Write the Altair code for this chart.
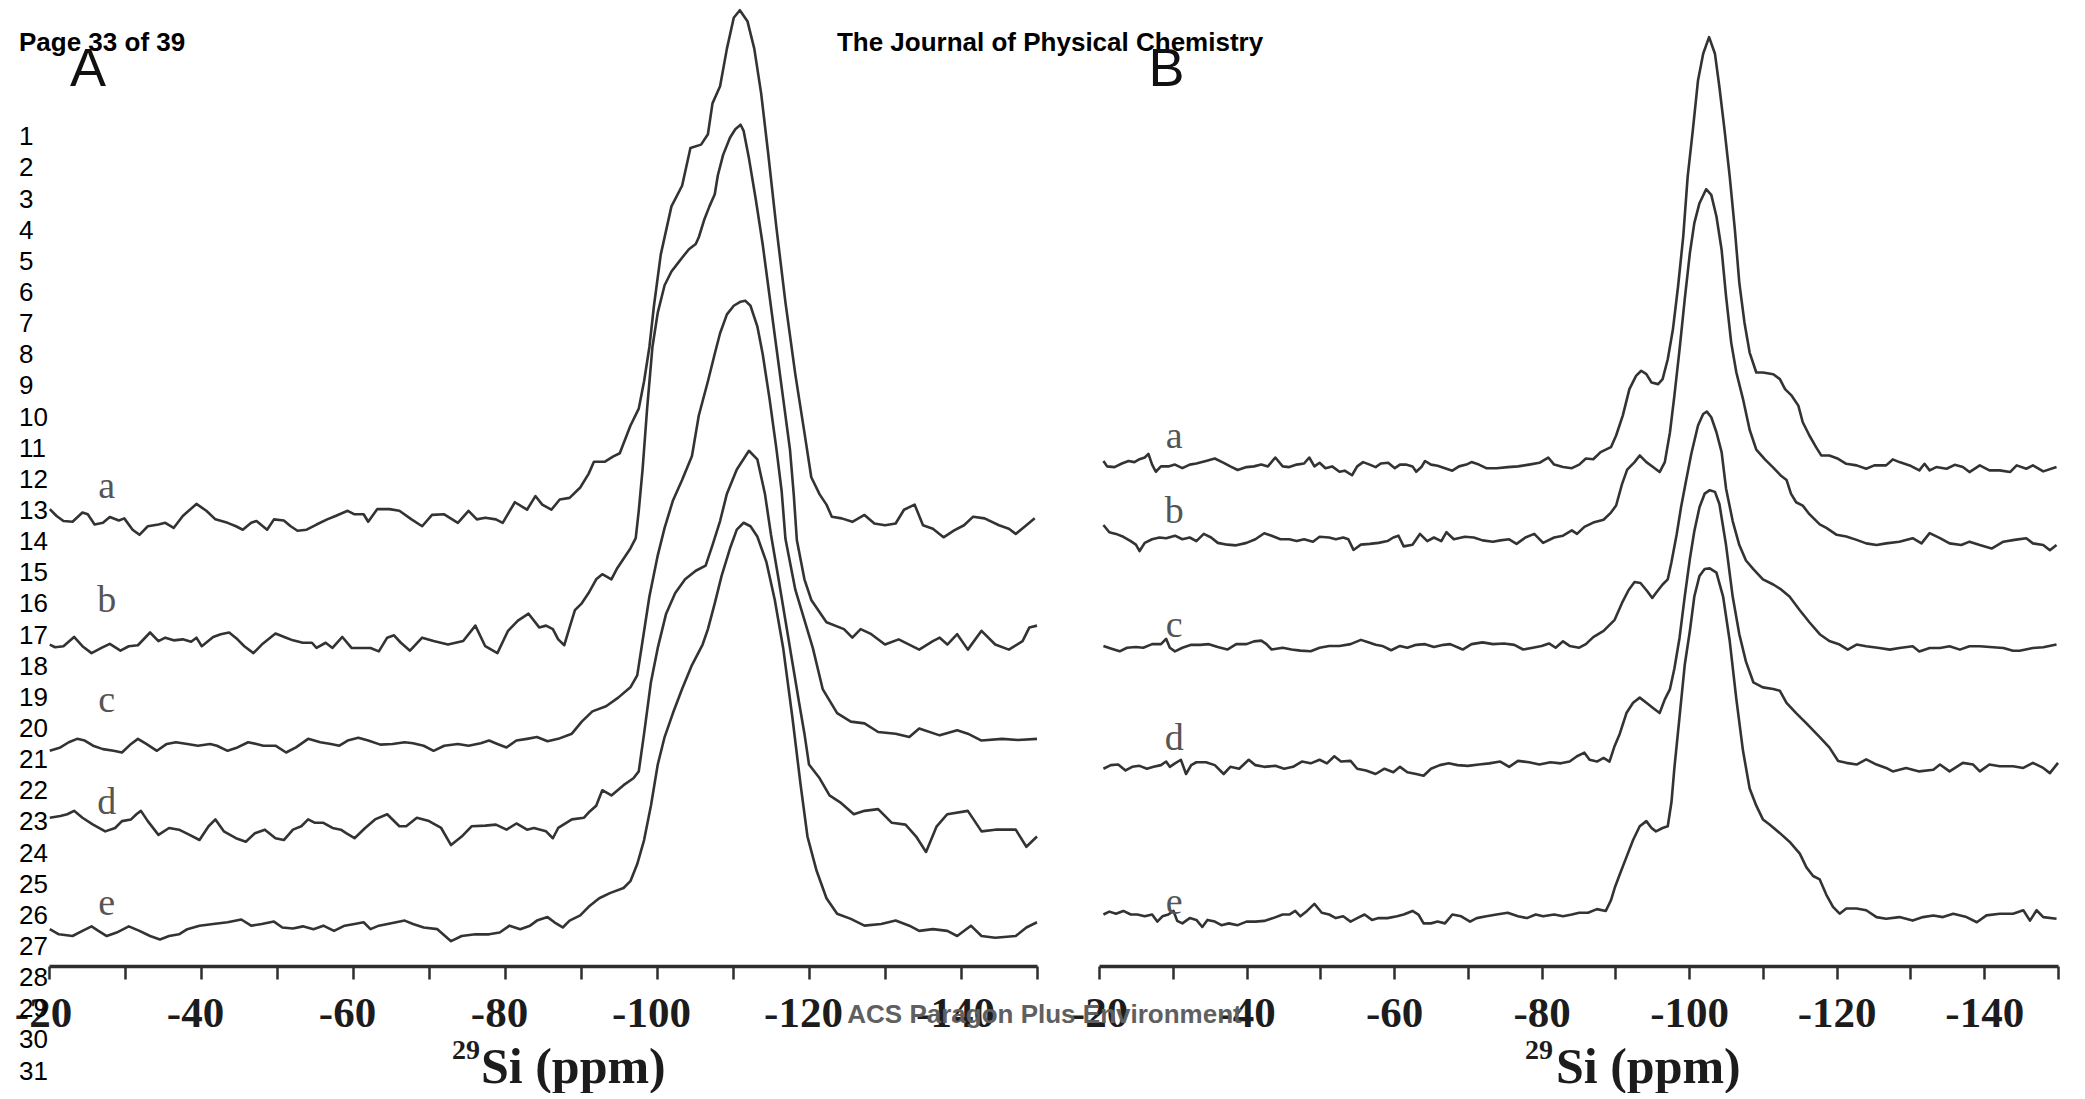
import altair as alt
import pandas as pd

# ---------------- data (ppm, intensity a.u.) ----------------
PPM_TICKS = list(range(-20, -151, -10))

A_a = [(-20.1, 8.6), (-21.0, 1.7), (-21.9, -3.4), (-23.1, -4.1), (-24.4, 5.2), (-25.1, 3.4), (-26.0, -6.9),
       (-27.1, -5.2), (-28.0, 0.7), (-29.2, -2.8), (-29.9, -0.7), (-31.0, -12.1), (-31.9, -17.2), (-33.0, -8.6),
       (-34.4, -6.9), (-35.3, -5.2), (-36.4, -10.3), (-37.6, 1.7), (-39.4, 13.8), (-40.7, 6.9), (-41.9, -1.7),
       (-43.5, -5.2), (-44.6, -8.6), (-45.5, -12.1), (-46.6, -5.2), (-47.3, -3.4), (-48.7, -12.1), (-49.6, -1.7),
       (-50.9, -2.8), (-51.8, -8.6), (-52.7, -13.1), (-53.9, -12.1), (-55.2, -6.9), (-56.6, -1.7), (-57.7, 1.7),
       (-59.3, 6.9), (-60.2, 3.4), (-61.4, 3.4), (-62.0, -4.1), (-63.2, 8.6), (-64.8, 8.6), (-66.1, 6.9),
       (-67.7, -1.7), (-69.1, -8.6), (-70.4, 2.8), (-72.0, 3.4), (-73.8, -5.2), (-75.2, 6.9), (-76.3, -1.7),
       (-77.4, 0.0), (-78.8, -1.7), (-79.7, -5.2), (-81.3, 15.5), (-82.9, 8.0), (-84.0, 21.7), (-84.9, 13.1),
       (-86.1, 8.0), (-87.2, 18.2), (-88.5, 19.9), (-89.9, 30.3), (-91.0, 44.0), (-91.7, 56.1), (-93.1, 56.1),
       (-94.2, 61.3), (-95.1, 64.7), (-96.5, 92.3), (-97.6, 109.5), (-98.3, 137.0), (-99.0, 171.4),
       (-99.6, 212.8), (-100.5, 264.4), (-101.9, 312.6), (-103.3, 333.3), (-104.4, 371.2), (-105.8, 374.6),
       (-106.7, 385.0), (-107.3, 416.0), (-108.3, 433.2), (-109.2, 471.0), (-110.1, 502.0), (-110.9, 509.6),
       (-111.9, 498.6), (-112.8, 471.0), (-113.7, 426.3), (-114.6, 367.7), (-115.7, 292.0), (-116.9, 216.2),
       (-118.2, 143.9), (-119.4, 85.4), (-120.3, 40.6), (-121.4, 23.4), (-122.3, 13.1), (-123.0, 1.0),
       (-124.3, -0.7), (-125.7, -4.2), (-127.3, 2.7), (-128.6, -5.9), (-130.0, -7.6), (-131.4, -5.9),
       (-132.5, 8.0), (-133.9, 13.1), (-135.0, -7.6), (-136.3, -11.1), (-137.7, -19.7), (-139.1, -12.8),
       (-140.4, -7.6), (-141.6, 1.0), (-143.1, -0.7), (-145.0, -7.6), (-146.3, -11.1), (-147.2, -16.3),
       (-148.6, -7.6), (-149.7, -0.7)]

A_b = [(-20.1, 0.0), (-20.8, -2.7), (-21.9, -1.7), (-23.3, 7.6), (-24.4, -1.7), (-25.6, -8.6), (-26.9, -3.4),
       (-28.0, 0.7), (-29.4, -6.2), (-30.5, -1.7), (-31.7, -0.7), (-33.3, 12.1), (-34.4, 3.5), (-35.3, 6.9),
       (-36.4, 4.2), (-37.6, 5.2), (-38.7, 2.8), (-39.4, 6.9), (-40.1, -1.7), (-41.6, 7.6), (-42.6, 10.4),
       (-43.7, 12.1), (-44.8, 5.2), (-45.7, -1.7), (-46.9, -8.6), (-48.0, 0.0), (-49.8, 11.0), (-51.2, 6.9),
       (-52.1, 4.2), (-53.4, 1.8), (-54.6, 1.8), (-55.2, -3.4), (-56.4, 1.8), (-57.3, -3.4), (-58.6, 7.6),
       (-59.8, -3.4), (-61.1, -3.4), (-62.3, -3.4), (-63.4, -6.9), (-64.5, 6.9), (-65.4, 9.3), (-66.3, 1.8),
       (-67.5, -6.2), (-69.1, 6.9), (-70.6, 3.5), (-72.5, 0.0), (-74.5, 3.5), (-76.1, 19.0), (-77.4, -1.7),
       (-79.0, -8.6), (-80.4, 13.8), (-81.7, 24.1), (-83.1, 31.0), (-84.5, 17.2), (-85.4, 19.0), (-86.3, 15.5),
       (-87.0, 5.2), (-87.8, -0.7), (-88.5, 17.2), (-89.2, 34.5), (-90.1, 41.4), (-91.0, 51.7), (-92.0, 65.5),
       (-92.8, 70.6), (-94.0, 65.5), (-94.7, 75.8), (-95.6, 86.1), (-96.5, 96.5), (-97.2, 106.8),
       (-97.6, 134.3), (-98.1, 175.7), (-98.7, 236.9), (-99.4, 298.8), (-100.1, 333.3), (-101.0, 360.8),
       (-101.9, 374.6), (-102.6, 381.5), (-103.3, 388.4), (-104.2, 397.0), (-105.1, 402.2), (-105.5, 409.0),
       (-106.2, 426.3), (-106.9, 440.0), (-107.6, 452.1), (-108.0, 471.0), (-108.7, 491.7), (-109.6, 508.9),
       (-110.3, 517.5), (-111.0, 522.0), (-111.4, 515.8), (-112.1, 488.2), (-113.0, 446.9), (-113.9, 402.2),
       (-114.8, 350.5), (-115.7, 298.8), (-116.6, 247.2), (-117.5, 195.6), (-118.0, 150.0), (-118.4, 105.0),
       (-119.4, 65.5), (-120.3, 44.8), (-122.3, 22.4), (-124.6, 15.5), (-125.7, 6.9), (-126.8, 15.5),
       (-128.2, 10.4), (-130.0, 0.0), (-131.8, 5.2), (-134.5, -5.1), (-136.3, 3.5), (-137.2, 6.9),
       (-138.2, 0.0), (-139.5, 10.4), (-140.9, -5.1), (-142.7, 13.8), (-144.5, 0.0), (-146.3, -5.1),
       (-148.1, 3.5), (-149.0, 17.2), (-150.0, 19.0)]

A_c = [(-20.1, -7.9), (-21.5, -4.5), (-22.6, 0.7), (-23.7, 4.1), (-24.7, 2.4), (-25.8, -2.8), (-27.1, -6.2),
       (-28.5, -7.9), (-29.6, -9.6), (-30.8, -1.0), (-31.7, 4.1), (-32.8, -1.0), (-34.2, -7.9), (-35.5, -1.0),
       (-36.7, 0.7), (-38.2, -1.0), (-39.6, -2.8), (-41.2, -1.0), (-42.1, -2.8), (-43.5, -7.9), (-44.8, -4.5),
       (-46.2, 0.7), (-47.3, -1.0), (-48.2, -2.8), (-49.8, -2.8), (-51.2, -9.6), (-52.5, -4.5), (-54.1, 4.1),
       (-55.7, 0.7), (-57.1, -1.0), (-58.2, -2.8), (-59.3, 2.4), (-60.7, 5.2), (-62.0, 2.4), (-63.6, -1.7),
       (-65.2, -1.0), (-66.8, 0.7), (-67.9, -0.3), (-69.3, -2.8), (-70.6, -7.9), (-72.0, -2.8), (-73.8, -1.0),
       (-75.2, -2.8), (-76.8, -0.3), (-77.9, 2.4), (-79.0, -1.0), (-80.2, -4.5), (-81.5, 2.4), (-82.9, 4.1),
       (-84.2, 5.9), (-85.6, 1.7), (-87.0, 4.1), (-88.8, 9.3), (-90.1, 21.4), (-91.5, 31.7), (-93.3, 36.8),
       (-94.9, 45.5), (-96.5, 55.8), (-97.4, 67.8), (-98.1, 102.3), (-99.0, 147.0), (-100.1, 188.4),
       (-101.0, 215.9), (-102.1, 243.5), (-103.3, 264.1), (-104.6, 288.2), (-105.5, 328.8), (-106.7, 363.2),
       (-107.6, 390.8), (-108.3, 411.4), (-109.2, 430.4), (-110.1, 439.0), (-111.0, 443.1), (-111.6, 444.1),
       (-112.3, 439.0), (-113.2, 418.3), (-113.9, 390.8), (-114.8, 346.0), (-115.7, 296.0), (-116.4, 253.0),
       (-116.9, 205.0), (-118.2, 153.9), (-120.5, 95.4), (-121.8, 54.1), (-123.7, 30.0), (-125.5, 21.4),
       (-127.3, 19.6), (-129.1, 11.0), (-131.4, 9.3), (-133.2, 5.9), (-134.5, 14.5), (-137.2, 7.6),
       (-139.5, 12.7), (-140.9, 9.3), (-142.7, 2.4), (-145.4, 4.1), (-147.5, 3.0), (-150.0, 4.1)]

A_d = [(-20.1, 8.9), (-21.5, 10.7), (-22.4, 12.4), (-23.3, 15.8), (-24.4, 8.9), (-25.8, 2.0), (-27.4, -4.8),
       (-28.7, -1.4), (-29.6, 5.5), (-30.8, 7.2), (-31.5, 12.4), (-32.1, 15.8), (-33.0, 5.5), (-34.4, -8.3),
       (-35.8, -1.4), (-37.1, -3.1), (-38.5, -8.3), (-39.8, -13.5), (-41.0, 0.3), (-41.9, 7.2), (-43.0, -4.8),
       (-44.6, -11.7), (-45.9, -15.2), (-47.1, -6.6), (-48.4, -3.1), (-49.8, -11.7), (-50.9, -13.5),
       (-52.1, -3.1), (-53.2, 0.3), (-54.1, 7.2), (-55.0, 3.8), (-56.1, 3.8), (-57.3, -1.4), (-58.4, -3.1),
       (-59.1, -6.6), (-60.2, -11.7), (-61.6, -1.4), (-62.9, 7.2), (-64.5, 12.4), (-66.1, 0.3), (-67.0, 0.3),
       (-68.4, 8.9), (-70.0, 5.5), (-71.6, -1.4), (-72.9, -18.6), (-74.3, -10.0), (-75.6, 0.3), (-77.4, 1.0),
       (-78.8, 2.0), (-80.2, -3.1), (-81.5, 3.1), (-82.9, -3.1), (-83.8, -1.4), (-85.4, -4.8), (-86.3, -11.7),
       (-87.0, -1.4), (-88.8, 7.2), (-90.4, 8.9), (-91.0, 14.1), (-92.0, 21.0), (-92.8, 36.5), (-94.0, 31.3),
       (-95.6, 41.6), (-96.9, 48.5), (-97.6, 55.4), (-98.3, 93.3), (-99.2, 144.9), (-100.1, 179.4),
       (-101.2, 213.8), (-102.4, 234.5), (-103.7, 248.3), (-105.1, 256.9), (-106.4, 262.0), (-107.3, 282.7),
       (-108.3, 306.8), (-109.2, 334.3), (-110.5, 358.5), (-112.1, 377.4), (-113.2, 368.8), (-114.2, 334.3),
       (-115.0, 293.0), (-116.0, 248.3), (-116.9, 206.9), (-117.8, 165.6), (-118.7, 124.3), (-119.4, 93.3),
       (-120.0, 62.3), (-121.4, 48.5), (-122.7, 31.3), (-124.1, 24.4), (-125.9, 12.4), (-127.3, 15.8),
       (-129.1, 17.5), (-130.9, 3.8), (-132.7, 2.0), (-134.1, -10.0), (-135.4, -25.5), (-136.8, 0.3),
       (-138.2, 12.4), (-140.9, 15.8), (-142.7, -4.8), (-144.5, -3.1), (-147.2, -3.1), (-148.6, -20.3),
       (-150.0, -10.0)]

A_e = [(-20.1, 0.0), (-21.3, -5.2), (-23.1, -6.9), (-24.4, -1.7), (-25.6, 2.8), (-26.5, -1.7), (-27.6, -6.9),
       (-28.9, -3.4), (-30.5, 2.8), (-31.9, -1.7), (-33.3, -6.9), (-34.6, -10.3), (-35.8, -6.9), (-37.1, -5.2),
       (-38.2, 0.0), (-39.8, 3.5), (-41.6, 5.2), (-43.5, 6.9), (-45.3, 9.7), (-46.6, 3.5), (-48.0, 5.2),
       (-49.6, 7.6), (-50.7, 1.7), (-52.1, 0.7), (-53.4, 2.8), (-54.8, 0.0), (-56.1, 3.5), (-57.5, -1.7),
       (-58.9, 3.5), (-60.2, 5.2), (-61.4, 6.9), (-62.3, 0.0), (-63.4, 3.5), (-65.2, 6.2), (-66.8, 8.6),
       (-67.9, 5.2), (-69.3, 1.7), (-71.1, 0.0), (-72.9, -12.1), (-74.3, -6.9), (-76.1, -5.2), (-77.9, -5.2),
       (-79.3, -3.4), (-80.6, 3.5), (-82.0, 0.0), (-83.3, 3.5), (-84.2, 8.6), (-85.6, 12.1), (-86.5, 6.9),
       (-87.6, 1.7), (-88.5, 8.6), (-89.9, 13.8), (-91.0, 22.4), (-92.4, 31.0), (-93.8, 36.2), (-95.6, 41.3),
       (-96.5, 48.2), (-97.4, 65.4), (-98.3, 89.5), (-99.2, 124.0), (-100.1, 165.3), (-101.0, 192.9),
       (-102.1, 217.0), (-103.3, 241.1), (-104.6, 265.2), (-106.0, 285.8), (-106.7, 301.3), (-107.6, 327.1),
       (-108.5, 354.7), (-109.6, 382.2), (-110.5, 401.2), (-111.4, 408.1), (-112.3, 404.6), (-113.2, 394.3),
       (-114.4, 368.5), (-115.5, 330.6), (-116.6, 282.4), (-117.8, 213.5), (-118.9, 144.6), (-119.8, 93.0),
       (-121.0, 58.6), (-122.3, 31.0), (-123.7, 15.5), (-125.5, 10.3), (-127.3, 3.5), (-129.5, 5.2),
       (-131.4, 8.6), (-133.2, 3.5), (-134.5, -1.7), (-136.3, 0.0), (-138.2, -1.7), (-139.5, -6.9),
       (-141.3, 3.5), (-142.7, -6.9), (-144.5, -8.6), (-147.2, -6.9), (-148.6, 1.7), (-150.0, 6.9)]

B_a = [(-20.6, 5.4), (-21.1, 0.0), (-22.1, -0.7), (-23.1, 2.9), (-24.0, 5.4), (-24.8, 4.3), (-25.5, 7.2),
       (-26.2, 8.9), (-26.7, 12.5), (-27.2, 1.8), (-27.7, -5.4), (-28.4, 0.0), (-29.4, 0.0), (-30.3, 1.8),
       (-31.3, -1.8), (-32.3, 1.8), (-33.2, 2.9), (-34.5, 5.4), (-35.7, 7.9), (-36.9, 3.6), (-37.8, 0.0),
       (-38.8, -3.6), (-40.0, -0.7), (-41.0, 0.0), (-42.0, 1.8), (-42.9, 0.0), (-43.9, 8.9), (-44.9, 0.0),
       (-45.8, -0.7), (-46.8, 1.8), (-47.8, 2.9), (-48.5, 8.9), (-49.2, 0.0), (-49.9, 3.6), (-50.7, -1.8),
       (-51.6, 0.0), (-52.6, -5.4), (-53.3, -4.3), (-54.3, -8.9), (-55.0, 0.0), (-55.8, 4.3), (-56.7, 1.8),
       (-57.5, -0.7), (-58.2, 2.9), (-59.2, 3.6), (-60.1, -1.8), (-60.8, 1.8), (-61.6, 1.8), (-62.5, 0.0),
       (-63.0, -5.4), (-63.7, -0.7), (-64.2, 5.4), (-65.0, 1.8), (-65.9, 0.7), (-66.9, -1.8), (-67.9, -4.3),
       (-68.8, 0.0), (-69.8, 1.8), (-70.5, 4.3), (-71.5, 1.8), (-72.5, -1.8), (-73.9, -1.8), (-75.4, -0.7),
       (-76.8, 0.0), (-78.3, 1.8), (-79.7, 3.6), (-80.9, 8.9), (-81.7, 1.8), (-82.9, -0.7), (-84.1, -1.8),
       (-85.1, 1.8), (-86.0, 7.9), (-87.0, 7.2), (-88.0, 14.3), (-89.4, 19.3), (-90.1, 31.0), (-91.0, 51.0),
       (-91.9, 77.6), (-92.8, 90.9), (-93.5, 96.0), (-94.2, 92.6), (-94.9, 84.3), (-95.8, 82.6), (-96.4, 87.6),
       (-97.1, 107.6), (-97.8, 137.6), (-98.5, 180.9), (-99.2, 231.0), (-99.8, 291.0), (-100.5, 337.6),
       (-101.2, 387.6), (-101.9, 414.3), (-102.7, 431.0), (-103.5, 414.3), (-104.1, 381.0), (-104.8, 337.6),
       (-105.5, 291.0), (-106.2, 237.6), (-106.8, 184.3), (-107.5, 144.3), (-108.2, 114.3), (-109.1, 94.3),
       (-110.0, 94.3), (-111.4, 92.6), (-112.3, 87.6), (-113.0, 77.6), (-113.9, 71.0), (-114.8, 61.0),
       (-115.4, 44.3), (-116.3, 31.0), (-117.2, 19.3), (-117.9, 11.0), (-119.0, 11.0), (-120.2, 7.6),
       (-121.3, 2.6), (-122.7, 1.0), (-124.0, -2.4), (-125.1, 1.0), (-126.7, 1.0), (-127.6, 7.0),
       (-128.5, 4.3), (-129.9, 1.0), (-131.2, -4.0), (-131.9, 2.6), (-132.6, -4.0), (-133.5, -0.7),
       (-134.9, -2.4), (-136.0, 1.6), (-137.1, -0.7), (-138.0, -5.7), (-139.4, 1.0), (-140.7, -4.0),
       (-142.1, -4.0), (-143.5, -5.7), (-144.4, 1.0), (-145.7, -2.4), (-146.6, 1.0), (-148.0, -5.0),
       (-149.8, -0.7)]

B_b = [(-20.6, 14.3), (-21.4, 7.1), (-22.3, 5.4), (-23.3, 2.5), (-24.3, -1.8), (-25.0, -5.4), (-25.5, -11.8),
       (-26.2, -3.6), (-27.2, 0.0), (-28.2, 1.8), (-29.1, 1.1), (-30.3, 3.6), (-31.3, 0.0), (-32.3, 1.8),
       (-33.2, -1.8), (-34.2, 5.4), (-35.2, 1.8), (-36.1, -3.6), (-37.4, -5.4), (-38.6, -6.1), (-40.0, -3.6),
       (-41.2, 0.0), (-42.4, 6.1), (-43.4, 3.6), (-44.6, 0.0), (-45.8, 0.0), (-46.8, -1.8), (-47.8, 0.0),
       (-49.0, -2.5), (-49.9, 2.5), (-51.2, 1.8), (-52.1, 0.0), (-53.1, 1.8), (-53.8, 0.0), (-54.5, -10.7),
       (-55.5, -5.4), (-56.7, -4.6), (-57.9, -3.6), (-59.1, -1.8), (-59.9, 1.8), (-60.6, 3.6), (-61.3, -7.1),
       (-62.5, -5.4), (-63.5, 5.4), (-64.5, -1.8), (-65.4, 1.8), (-66.4, -1.8), (-67.1, 7.1), (-68.1, 0.0),
       (-69.6, 2.5), (-70.8, 1.8), (-72.0, -1.1), (-73.4, -2.5), (-74.4, -1.1), (-75.6, 0.0), (-76.6, -4.6),
       (-77.8, 1.8), (-79.0, 5.4), (-80.2, -3.6), (-81.7, 1.8), (-82.9, 3.6), (-84.1, 8.9), (-84.8, 5.4),
       (-85.8, 12.5), (-87.0, 16.8), (-88.4, 19.6), (-89.4, 26.8), (-90.1, 33.9), (-90.9, 55.4), (-91.6, 70.0),
       (-92.6, 77.5), (-93.3, 84.2), (-94.2, 77.5), (-95.1, 72.5), (-96.0, 67.5), (-96.7, 77.5),
       (-97.4, 107.5), (-98.0, 144.2), (-98.7, 190.8), (-99.4, 240.8), (-100.1, 287.5), (-100.7, 317.5),
       (-101.4, 337.5), (-102.3, 351.5), (-103.0, 345.8), (-103.7, 324.2), (-104.4, 290.8), (-105.0, 244.2),
       (-105.7, 197.5), (-106.4, 167.5), (-107.3, 140.8), (-108.2, 110.0), (-109.1, 90.0), (-110.3, 80.0),
       (-111.4, 72.0), (-112.5, 63.5), (-113.2, 59.6), (-113.8, 45.8), (-114.5, 37.2), (-115.4, 33.8),
       (-116.3, 25.2), (-117.7, 14.9), (-118.6, 11.4), (-120.0, 4.5), (-121.3, 2.8), (-122.7, -0.6),
       (-124.0, -4.1), (-125.4, -5.8), (-126.7, -4.1), (-128.5, -2.4), (-130.3, 1.1), (-131.5, -4.1),
       (-132.6, 6.2), (-134.0, 1.1), (-135.3, -4.1), (-136.9, -5.8), (-138.0, -2.4), (-139.4, -5.8),
       (-141.0, -9.3), (-142.6, -2.4), (-144.1, -0.6), (-145.7, 1.1), (-146.6, -4.1), (-148.0, -5.8),
       (-148.9, -11.0), (-149.8, -5.8)]

B_c = [(-20.6, 1.8), (-21.6, -0.7), (-22.8, -3.6), (-23.8, 0.0), (-25.0, 0.7), (-26.0, 0.0), (-27.2, 3.6),
       (-28.4, 3.6), (-29.1, 8.9), (-29.6, 0.0), (-30.3, -3.6), (-31.3, 0.0), (-32.5, 2.9), (-33.7, 2.9),
       (-34.9, 3.6), (-36.1, 0.7), (-37.4, -1.8), (-38.6, 3.6), (-40.0, 3.6), (-41.0, 6.4), (-42.0, 7.1),
       (-42.7, 3.6), (-43.4, -1.8), (-44.9, 0.0), (-46.1, -1.8), (-47.3, -2.9), (-48.7, -3.6), (-49.9, 0.0),
       (-51.2, 1.8), (-52.6, 1.8), (-54.1, 3.6), (-55.5, 7.9), (-56.5, 5.4), (-57.5, 2.9), (-58.4, 1.8),
       (-59.6, -2.5), (-60.8, 1.8), (-61.8, 0.0), (-63.0, 2.9), (-64.2, 3.6), (-65.4, 0.7), (-66.7, 2.9),
       (-67.6, 3.6), (-69.3, -1.8), (-70.5, 3.6), (-72.0, 5.4), (-73.4, 3.6), (-74.9, 4.3), (-76.3, 2.9),
       (-77.5, -1.8), (-78.8, 0.0), (-80.0, 1.8), (-81.0, 4.3), (-81.9, 0.0), (-82.9, 6.4), (-83.8, 1.8),
       (-85.1, 0.0), (-86.0, 3.6), (-87.0, 10.7), (-88.4, 17.0), (-89.9, 28.0), (-90.9, 45.0), (-91.8, 58.0),
       (-92.6, 66.0), (-93.4, 65.0), (-94.3, 57.0), (-95.0, 50.0), (-95.5, 54.9), (-96.4, 63.5), (-97.1, 68.7),
       (-97.6, 85.9), (-98.3, 113.4), (-98.9, 141.0), (-99.6, 168.5), (-100.3, 195.0), (-101.2, 223.1),
       (-101.9, 234.7), (-102.4, 237.1), (-103.0, 231.4), (-103.7, 216.4), (-104.4, 196.4), (-105.0, 160.0),
       (-105.9, 127.2), (-106.8, 103.1), (-107.7, 87.6), (-108.7, 79.0), (-110.0, 68.7), (-111.4, 63.5),
       (-112.5, 58.3), (-113.6, 51.4), (-115.0, 37.7), (-116.3, 25.6), (-117.7, 13.6), (-119.0, 6.7),
       (-120.4, 3.2), (-121.5, -1.9), (-122.7, 3.2), (-124.0, 1.5), (-125.8, -0.2), (-127.2, -1.9),
       (-128.5, -0.2), (-130.3, 1.5), (-131.2, -3.7), (-132.6, -0.2), (-134.0, -0.2), (-135.3, 1.5),
       (-136.7, -1.9), (-138.0, 1.5), (-139.4, 1.5), (-141.2, 0.5), (-142.6, -0.2), (-143.9, -3.0),
       (-144.8, -3.0), (-146.6, -0.2), (-148.0, 0.5), (-149.8, 3.2)]

B_d = [(-20.6, -1.9), (-21.6, 1.7), (-22.6, 2.4), (-23.6, -3.6), (-24.5, 0.0), (-25.5, 1.0), (-26.5, -1.9),
       (-27.4, 0.0), (-28.4, 1.7), (-29.1, 5.3), (-29.6, 0.0), (-30.3, 3.5), (-31.1, 7.1), (-31.8, -7.2),
       (-32.5, 1.7), (-33.2, 4.6), (-34.5, 4.6), (-35.7, 1.7), (-36.9, -7.2), (-37.8, 0.0), (-39.0, -1.9),
       (-40.3, 7.1), (-41.2, 1.7), (-42.4, 0.0), (-43.9, 1.0), (-45.1, -1.9), (-46.3, 0.0), (-47.5, 5.3),
       (-48.7, 3.5), (-49.9, 7.1), (-50.9, 3.5), (-51.9, 10.6), (-52.8, 5.3), (-54.1, 6.0), (-55.0, -1.9),
       (-56.2, -3.6), (-57.5, -7.2), (-58.7, -1.9), (-59.9, -5.4), (-60.8, 0.0), (-61.8, -5.4), (-63.0, -7.2),
       (-64.0, -9.0), (-65.0, -1.9), (-66.2, 1.7), (-67.4, 3.5), (-68.6, 1.7), (-70.0, 1.0), (-71.5, 2.4),
       (-72.9, 3.5), (-74.4, 5.3), (-75.6, 0.0), (-76.8, 6.0), (-78.3, 4.6), (-79.7, 2.4), (-81.2, 4.6),
       (-82.6, 3.5), (-83.8, 5.3), (-84.8, 10.6), (-85.8, 14.2), (-86.5, 7.1), (-87.5, 5.3), (-88.4, 8.9),
       (-89.2, 5.3), (-89.9, 21.0), (-90.6, 33.3), (-91.5, 54.0), (-92.4, 64.3), (-93.3, 69.5), (-94.2, 64.3),
       (-95.1, 59.1), (-96.0, 54.0), (-96.7, 67.7), (-97.4, 78.1), (-98.0, 98.7), (-98.7, 129.7),
       (-99.4, 171.0), (-100.1, 208.9), (-100.7, 236.5), (-101.4, 260.6), (-102.1, 274.3), (-102.8, 277.8),
       (-103.5, 276.1), (-104.1, 264.0), (-105.0, 222.7), (-105.9, 171.0), (-106.8, 133.2), (-107.7, 105.6),
       (-108.7, 84.9), (-110.0, 79.8), (-111.4, 78.1), (-112.3, 76.3), (-113.2, 64.3), (-114.5, 54.0),
       (-115.9, 43.6), (-117.7, 29.9), (-119.0, 19.5), (-120.2, 5.8), (-121.3, 4.0), (-122.7, 2.3),
       (-124.0, 7.5), (-125.4, 2.3), (-126.7, -1.1), (-127.6, -4.6), (-129.4, -1.1), (-131.2, -4.6),
       (-133.1, -2.9), (-134.0, 2.3), (-135.3, -4.6), (-137.1, 4.0), (-138.5, 2.3), (-139.4, -4.6),
       (-140.7, 2.3), (-142.1, 0.6), (-143.9, 0.6), (-145.3, -1.1), (-146.6, 4.0), (-148.0, -1.1),
       (-148.9, -6.3), (-150.0, 4.0)]

B_e = [(-20.6, 0.0), (-21.4, 2.9), (-22.3, 0.7), (-23.3, 3.6), (-24.3, 0.0), (-25.2, 0.0), (-26.2, -1.8),
       (-27.2, 0.0), (-27.9, -7.1), (-28.6, -1.8), (-29.4, 0.0), (-30.1, 3.6), (-30.6, -6.4), (-31.3, -8.9),
       (-32.3, -3.6), (-33.2, -5.4), (-34.0, -12.5), (-34.7, -5.4), (-35.7, -7.1), (-36.6, -10.7),
       (-37.6, -8.9), (-38.8, -10.7), (-40.0, -7.1), (-41.2, -7.1), (-42.4, -6.4), (-43.6, -3.6), (-44.9, 0.0),
       (-45.8, 0.0), (-46.6, 3.6), (-47.3, -1.8), (-48.2, 3.6), (-49.2, 10.7), (-50.2, 1.8), (-51.2, 0.0),
       (-52.1, -3.6), (-53.1, -1.8), (-54.1, -7.1), (-55.0, -3.6), (-56.0, 0.0), (-57.0, -5.4), (-57.9, -3.6),
       (-59.1, -3.6), (-60.4, -1.8), (-61.3, 0.0), (-62.5, 3.6), (-63.3, 0.0), (-64.0, -8.9), (-65.0, -8.9),
       (-65.9, -7.1), (-66.9, -8.9), (-67.9, 0.0), (-69.1, -1.8), (-70.3, -7.1), (-71.2, -3.6), (-72.5, -1.8),
       (-73.9, 0.0), (-75.4, 1.8), (-76.8, -1.8), (-78.0, -3.6), (-79.2, 0.0), (-80.2, -1.8), (-81.7, 0.0),
       (-82.9, -1.8), (-84.1, 0.0), (-85.1, 1.8), (-86.3, 1.8), (-87.5, 5.4), (-88.7, 3.6), (-89.4, 14.3),
       (-89.9, 26.6), (-90.6, 40.4), (-91.5, 57.6), (-92.4, 74.8), (-93.3, 88.6), (-94.2, 93.8), (-94.9, 86.9),
       (-95.5, 83.5), (-96.4, 86.9), (-97.1, 88.6), (-97.6, 112.7), (-98.0, 147.2), (-98.7, 198.8),
       (-99.4, 250.5), (-100.1, 284.9), (-100.7, 319.3), (-101.4, 340.0), (-102.1, 346.9), (-102.8, 347.6),
       (-103.7, 343.4), (-104.6, 319.3), (-105.5, 274.6), (-106.4, 216.0), (-107.3, 164.4), (-108.2, 126.5),
       (-109.1, 109.3), (-110.0, 95.5), (-110.9, 90.4), (-112.3, 81.7), (-113.6, 73.1), (-115.0, 61.1),
       (-115.9, 47.3), (-116.8, 38.7), (-117.7, 35.2), (-118.6, 19.8), (-119.5, 7.7), (-120.4, 0.8),
       (-121.3, 6.0), (-122.7, 6.0), (-124.0, 4.3), (-125.4, -2.6), (-126.7, -4.3), (-128.5, -2.6),
       (-130.3, -6.1), (-131.7, -2.6), (-133.1, -0.9), (-134.4, -2.6), (-135.8, 0.8), (-137.6, -2.6),
       (-139.0, -7.8), (-140.3, -0.9), (-142.1, 0.8), (-143.9, 0.8), (-145.3, 4.3), (-146.2, -6.1),
       (-147.1, 4.3), (-148.0, -2.6), (-149.8, -4.3)]

CURVE_NAMES = ["a", "b", "c", "d", "e"]
A_OFFSETS = [450.2, 322.8, 224.0, 140.0, 37.0]      # vertical stacking of the spectra
B_OFFSETS = [501.7, 428.5, 319.6, 200.0, 51.7]
A_LABEL_PPM, A_LABEL_Y = -27.6, [470.0, 355.5, 255.0, 152.6, 51.2]
B_LABEL_PPM, B_LABEL_Y = -30.2, [520.0, 444.8, 330.4, 216.9, 52.2]
LINE_NUMBERS = list(range(1, 32))

# ---------------- layout / style ----------------
PLOT_H = 958
A_W, B_W, GAP = 988, 959, 62
Y_DOMAIN = [0, 962]
INK = "#333333"
SERIF = "Liberation Serif"
SANS = "Liberation Sans"


def note(text, x, y, **kw):
    return alt.Chart(pd.DataFrame({"t": [text]})).mark_text(**kw).encode(
        text="t:N", x=alt.value(x), y=alt.value(y))


def make_panel(curves, offsets, label_ppm, label_y, width, label_shift, extras):
    rows = []
    for name, pts, off in zip(CURVE_NAMES, curves, offsets):
        for p, val in pts:
            rows.append({"curve": name, "ppm": p, "v": off + val})
    df = pd.DataFrame(rows)
    xs = alt.Scale(domain=[-20, -150], nice=False, zero=False)
    ys = alt.Scale(domain=Y_DOMAIN, nice=False, zero=False)
    axis = alt.Axis(
        values=PPM_TICKS,
        labelExpr="datum.value % 20 == 0 ? '-' + format(abs(datum.value), 'd') : ''",
        title=None, grid=False,
        domainColor="#2e2e2e", domainWidth=3.5,
        tickColor="#2e2e2e", tickWidth=2.5, tickSize=13,
        labelFont=SERIF, labelFontWeight="bold", labelFontSize=43, labelColor="#1c1c1c",
        labelPadding=13, labelOffset=label_shift, labelFlush=False, labelOverlap=False,
    )
    lines = alt.Chart(df).mark_line(color=INK, strokeWidth=2.6, strokeJoin="round").encode(
        x=alt.X("ppm:Q", scale=xs, axis=axis),
        y=alt.Y("v:Q", scale=ys, axis=None),
        detail="curve:N",
    )
    lab = pd.DataFrame({"label": CURVE_NAMES, "ppm": [label_ppm] * 5, "v": label_y})
    labels = alt.Chart(lab).mark_text(font=SERIF, fontSize=38, color="#555555",
                                      align="center", baseline="alphabetic").encode(
        x=alt.X("ppm:Q", scale=xs, axis=axis),
        y=alt.Y("v:Q", scale=ys, axis=None),
        text="label:N",
    )
    return alt.layer(lines, labels, *extras).properties(width=width, height=PLOT_H)


# page furniture for the left panel
line_df = pd.DataFrame({"n": LINE_NUMBERS})
line_df["pos"] = 137.3 + (line_df["n"] - 1) * 31.14
line_nums = alt.Chart(line_df).mark_text(font=SANS, fontSize=26, color="#000000",
                                         align="left", baseline="alphabetic").encode(
    x=alt.value(-30), y=alt.Y("pos:Q", scale=None), text="n:N")
left_edge = alt.Chart(pd.DataFrame({"k": [0]})).mark_rule(opacity=0, strokeWidth=1).encode(
    x=alt.value(-40.5), x2=alt.value(-39.5), y=alt.value(400))

extras_a = [
    left_edge,
    line_nums,
    note("Page 33 of 39", -30, 43, font=SANS, fontSize=26, fontWeight="bold", color="#000",
         align="left", baseline="alphabetic"),
    note("The Journal of Physical Chemistry", 1001, 43, font=SANS, fontSize=26, fontWeight="bold",
         color="#000", align="center", baseline="alphabetic"),
    note("A", 21, 78, font=SANS, fontSize=54, color="#111", align="left", baseline="alphabetic"),
    note("29", 403, 1051, font=SERIF, fontSize=28, fontWeight="bold", color="#1c1c1c",
         align="left", baseline="alphabetic"),
    note("Si (ppm)", 432, 1075, font=SERIF, fontSize=50, fontWeight="bold", color="#1c1c1c",
         align="left", baseline="alphabetic"),
]
extras_b = [
    note("B", 49.5, 78, font=SANS, fontSize=54, color="#111", align="left", baseline="alphabetic"),
    note("29", 426, 1051, font=SERIF, fontSize=28, fontWeight="bold", color="#1c1c1c",
         align="left", baseline="alphabetic"),
    note("Si (ppm)", 457, 1075, font=SERIF, fontSize=50, fontWeight="bold", color="#1c1c1c",
         align="left", baseline="alphabetic"),
    note("ACS Paragon Plus Environment", -54.5, 1015, font=SANS, fontSize=26, fontWeight="bold",
         color="#606060", align="center", baseline="alphabetic"),
]

panel_a = make_panel([A_a, A_b, A_c, A_d, A_e], A_OFFSETS, A_LABEL_PPM, A_LABEL_Y, A_W, -6, extras_a)
panel_b = make_panel([B_a, B_b, B_c, B_d, B_e], B_OFFSETS, B_LABEL_PPM, B_LABEL_Y, B_W, 0, extras_b)

chart = alt.hconcat(panel_a, panel_b, spacing=GAP, bounds="flush").properties(
    padding={"left": 0, "top": 0, "right": 0, "bottom": 0},
    background="white",
).configure_view(stroke=None)

chart.save("out.html", embed_options={"renderer": "svg", "actions": False})
